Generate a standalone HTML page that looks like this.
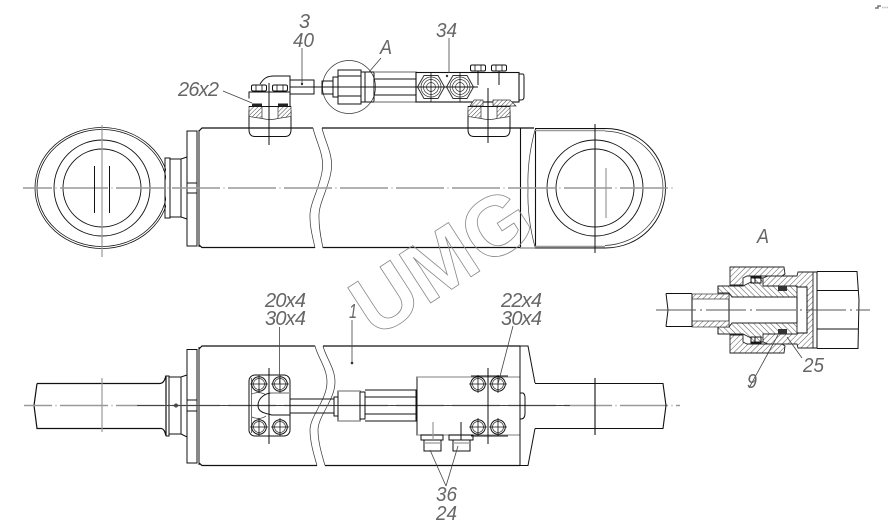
<!DOCTYPE html>
<html><head><meta charset="utf-8"><style>
html,body{margin:0;padding:0;background:#fff;width:889px;height:531px;overflow:hidden}
svg{display:block}
text{font-family:"Liberation Sans",sans-serif;font-style:italic;font-size:20px;fill:#666;font-weight:normal}
.k{fill:none;stroke:#111;stroke-width:1}
.t{fill:none;stroke:#333;stroke-width:.7}
.g{fill:none;stroke:#999;stroke-width:1.2}
.c{fill:none;stroke:#999;stroke-width:1.4;stroke-dasharray:48 3.5 1 3.5}
.l{fill:none;stroke:#444;stroke-width:.8}
</style></head><body>
<svg width="889" height="531" viewBox="0 0 889 531" xmlns="http://www.w3.org/2000/svg">
<defs>
<pattern id="h" width="4" height="4" patternUnits="userSpaceOnUse" patternTransform="rotate(45)"><rect width="4" height="4" fill="#fff"/><line x1="0" y1="0" x2="0" y2="4" stroke="#555" stroke-width="1"/></pattern>
<pattern id="h2" width="4" height="4" patternUnits="userSpaceOnUse" patternTransform="rotate(-45)"><rect width="4" height="4" fill="#fff"/><line x1="0" y1="0" x2="0" y2="4" stroke="#555" stroke-width="1"/></pattern>
<pattern id="h3" width="3" height="3" patternUnits="userSpaceOnUse" patternTransform="rotate(45)"><rect width="3" height="3" fill="#fff"/><line x1="0" y1="0" x2="0" y2="3" stroke="#444" stroke-width="1"/></pattern>
<g id="hex">
<path class="t" style="stroke-width:1" d="M-13.500 0L-7 -11.500H7L13.500 0L7 11.500H-7Z"/>
<circle class="t" r="10"/><circle class="t" r="7.500"/><circle class="t" r="4.500"/>
<path class="k" style="stroke-width:.8" d="M-17 0H17M0 -15V15"/>
</g>
<g id="bolt"><circle class="k" r="7.300"/><circle class="t" r="5.500"/><path class="k" style="stroke-width:.8" d="M-9 0H9M0 -9V9"/></g>
<g id="tb"><rect class="k" x="-7.500" y="0" width="15" height="6" rx="1.500"/><path class="k" style="stroke-width:.8" d="M-3 0V6M3 0V6"/></g>
<g id="clamp">
<path class="k" d="M0 12V31Q0 38 6 38H36Q42 38 42 31V12"/>
<path d="M0 8H13V20L0 18Z M42 8H29V20L42 18Z" fill="url(#h3)" stroke="#333" stroke-width=".7"/>
<path d="M0 8H42" class="k"/>
<path d="M13 20Q21 22 29 20" class="t"/>
<rect x="3" y="5" width="10" height="3" fill="#222"/><rect x="29" y="5" width="10" height="3" fill="#222"/>
</g>
</defs>

<!-- TOP VIEW -->
<ellipse class="k" cx="102" cy="188" rx="67" ry="60.500" style="stroke-width:.8"/>
<ellipse class="k" cx="102" cy="188" rx="65" ry="58.500" style="stroke-width:.8"/>
<rect x="166" y="150" width="10" height="76" fill="#fff"/>
<circle class="k" cx="102" cy="188" r="48" style="stroke-width:.9"/>
<circle class="k" cx="102" cy="188" r="39" style="stroke-width:.9"/>
<path class="k" d="M165 158H170V218H165ZM170 159H181V217H170M181 159L187 157V219L181 217M187 131H197V246H187ZM197 131V246M199 130V247"/>
<path class="k" d="M187 183H197M187 193H197"/>
<path class="k" style="stroke-width:1.200" d="M199 131L202 128H313M199 245L202 247.500H315M322 128H534M323 247.500H520"/>
<path class="t" d="M313 128C316 142 325 155 322 172C319 190 309 204 310 218C310 229 313 238 315 248"/>
<path class="t" d="M322 128C325 142 334 155 331 172C328 190 318 204 319 218C319 229 321 238 323 248"/>
<path class="k" style="stroke-width:1.100" d="M520.500 128V248M535.500 129V247"/>
<path class="t" d="M535 130Q527 160 528 188Q527 218 535 247"/>
<path class="g" style="stroke-width:1.500" d="M520 248H535M535 130.500H605M535 246.500H605"/>
<path class="k" style="stroke-width:.9" d="M535 128.500H605C640 128.500 665.500 155 665.500 188C665.500 221 640 248 605 248H535"/>
<path class="t" d="M605 131C638 132 663 157 663 188C663 219 638 244 605 245.500"/>
<circle class="k" cx="595" cy="188" r="48" style="stroke-width:.9"/>
<circle class="k" cx="595" cy="188" r="39" style="stroke-width:.9"/>
<path class="k" d="M595 124V253"/>
<path class="g" d="M606 168V218"/>
<line class="c" x1="23" y1="188" x2="674" y2="188" stroke-dashoffset="19"/>
<path class="g" d="M102 125V257"/>
<path class="k" d="M94.500 166V213M109.500 166V213"/>

<!-- top clamps -->
<use href="#clamp" x="249" y="98.500"/>
<use href="#clamp" x="468" y="98.500"/>
<path class="k" d="M249 98.500V92H290V106M260 84C264 78 267 76 274 76H290V94M290 80H314V94H290"/>
<use href="#tb" x="259" y="85"/><use href="#tb" x="280" y="85"/>
<path class="k" d="M269 83V145M290 87H322"/>
<!-- middle fitting -->
<circle class="t" cx="349" cy="87" r="26.500"/>
<path class="k" d="M322 81H333V94H322ZM333 77H338V97H333ZM338 70H361V104H338ZM338 76H361M338 96H361M361 72H365V102H361ZM365 72H374V102H365M374 72H416V102H374M374 79H416M374 95H416"/>
<path class="g" style="stroke-width:1.500" d="M374 72H416M374 102H416"/>
<path class="k" d="M314 87H478"/>
<!-- valve block -->
<rect class="k" x="416" y="72.500" width="103" height="29.500" style="stroke-width:1.100"/>
<path class="k" d="M519 74H523Q524 74 524 77V97Q524 100 521 100H519"/>
<use href="#hex" x="431" y="87"/><use href="#hex" x="460" y="87"/>
<use href="#tb" x="478" y="65"/><use href="#tb" x="499" y="65"/>
<path class="k" d="M478 71V85M499 71V85M488 88V143"/>
<path d="M470 106L474 100H483V106ZM493 106V100H510L516 106Z" fill="url(#h3)" stroke="#333" stroke-width=".7"/>

<!-- BOTTOM VIEW -->
<path class="k" style="stroke-width:1.200" d="M37 383.500L34 405.500L37 428.500H160C164 428 165 432 166 436V375.500C165 379 164 383 160 383.500H37"/>
<path class="k" d="M166 376H169V436H166M169 377H181V434H169M181 377L187 375V437L181 434M187 349.500H197V463H187ZM187 400H197M187 411H197M199 347V465"/>
<path class="k" style="stroke-width:1.200" d="M199 349L202 346H315M199 463L202 465.500H317M323 346H520M325 465.500H520"/>
<path class="t" d="M315 346C318 358 327 368 327 382C327 400 310 416 310 430C310 442 314 455 317 465.500"/>
<path class="t" d="M323 346C326 358 335 368 335 382C335 400 318 416 318 430C318 442 322 455 325 465.500"/>
<path class="g" d="M102 378V432"/>
<circle cx="176" cy="405.500" r="2" fill="#333"/>
<line class="c" x1="24" y1="405.500" x2="680" y2="405.500" stroke-dashoffset="20"/>
<path stroke="#444" stroke-width="1" fill="none" d="M137 405.500H570"/>
<!-- plate -->
<rect class="k" x="249" y="375" width="41" height="61" rx="6"/>
<path class="t" d="M251.500 378V433"/>
<path class="k" d="M290 393H272C264 393 258 399 258 405.500C258 412 264 413 272 415H290"/>
<path class="g" style="stroke-width:1.400" d="M270 393H290"/>
<path class="t" d="M252 394C256 392 262 392 266 395M252 417C256 419 262 419 266 416"/>
<use href="#bolt" x="259" y="384"/><use href="#bolt" x="280" y="384"/>
<use href="#bolt" x="259" y="427"/><use href="#bolt" x="280" y="427"/>
<path class="k" d="M269 368V444"/>
<path class="k" d="M290 399H334M290 413H334M334 397H338V416H334ZM338 391H360V421H338ZM360 392H365V419H360ZM365 390H416V421H365M365 397H416M365 414H416"/>
<path class="g" style="stroke-width:1.500" d="M338 391H360M338 421H360"/>
<rect class="k" x="417" y="377" width="103" height="58"/>
<path class="g" style="stroke-width:1.300" d="M417 377H520M417 435H520"/>
<path class="k" d="M520 346V465.500M520 346H528L535 383M520 465.500H528L535 428.500"/>
<path class="k" d="M520 393H523Q525 394 525 398V413Q525 419 521 419H520"/>
<path class="k" d="M471 376H508M471 436H508"/>
<use href="#bolt" x="478" y="384"/><use href="#bolt" x="498" y="384"/>
<use href="#bolt" x="478" y="427"/><use href="#bolt" x="498" y="427"/>
<path class="k" d="M488 368V444"/>
<path class="k" d="M421 435H443V440H421ZM424 440H441V451H424ZM449 435H473V440H449ZM453 440H470V451H453Z"/>
<path class="g" d="M433 422V440M424 443H441M453 443H470"/>
<path class="k" d="M461 422V440"/>
<path class="k" style="stroke-width:1.100" d="M535 383.500H663L666 405.500L663 428.500H535M595 378V435"/>

<!-- DETAIL A -->
<path d="M730 267H784L785 274L782 276H747L743 278V285H730Z" fill="url(#h)" stroke="#222" stroke-width=".9"/>
<path d="M730 353H784L785 346L782 344H747L743 342V335H730Z" fill="url(#h)" stroke="#222" stroke-width=".9"/>
<path d="M761 279L768 276H797L798 272H813V348H798L797 344H768L761 341L763 330H786V327H797V293H786V290H763Z" fill="url(#h)" stroke="#222" stroke-width=".9"/>
<rect x="797" y="287" width="10" height="46" fill="#fff"/>
<path class="k" d="M797 287H807V333H797"/>
<path d="M718 286H743L751 282V278H763V286H797V297H732L729 293H718Z" fill="url(#h2)" stroke="#222" stroke-width=".9"/>
<path d="M718 334H743L751 338V342H763V334H797V323H732L729 327H718Z" fill="url(#h2)" stroke="#222" stroke-width=".9"/>
<path class="k" d="M751 277H761V283H751ZM751 337H761V343H751ZM755 277V283M755 337V343"/>
<rect x="778" y="286" width="9" height="5" fill="#333"/><rect x="778" y="329" width="9" height="5" fill="#333"/>
<path class="k" d="M729 293V327M797 297V323"/>
<path class="k" d="M666 293.500H692M666 326.500H692M666 293.500L668 310L666 326.500"/>
<rect x="692" y="294" width="37" height="5" fill="url(#h)" stroke="#333" stroke-width=".7"/>
<rect x="692" y="321" width="37" height="6" fill="url(#h)" stroke="#333" stroke-width=".7"/>
<path class="k" d="M692 294V327M718 286V293M718 327V334"/>
<path class="k" d="M817 271.500V348.500M817 271.500H857L859 300L858 348.500H817M817 290.500H858M817 329H858M813 272H817M813 348H817"/>
<path class="g" d="M656 310H870" style="stroke:#555;stroke-width:1;stroke-dasharray:40 4 2 4"/>
<path class="l" d="M787 337L802 358M778 335L749 388"/>

<!-- WATERMARK -->
<text transform="translate(375 339) rotate(-33)" style="font-family:'Liberation Sans',sans-serif;font-style:normal;font-weight:bold;font-size:84px;fill:none;stroke:#888;stroke-width:.8">UMG</text>

<!-- LEADERS -->
<path class="l" d="M223 91L252 103M302 48V84M449 38V73M381 58L369 72M279.500 327V384M513 326L498 384M352 320V363M430 450L446 486M458 446L446 486"/>
<circle cx="302" cy="84" r="1.200" fill="#333"/><circle cx="447" cy="76" r="1.200" fill="#333"/>
<circle cx="352" cy="363" r="1.300" fill="#333"/>

<!-- LABELS -->
<text x="299" y="28" textLength="11" lengthAdjust="spacingAndGlyphs">3</text>
<text x="293" y="47" textLength="21" lengthAdjust="spacingAndGlyphs">40</text>
<text x="380" y="54" textLength="12" lengthAdjust="spacingAndGlyphs">A</text>
<text x="436" y="37" textLength="21" lengthAdjust="spacingAndGlyphs">34</text>
<text x="178" y="96" textLength="41" lengthAdjust="spacing">26x2</text>
<text x="757" y="243" textLength="12" lengthAdjust="spacingAndGlyphs">A</text>
<text x="803" y="372" textLength="21" lengthAdjust="spacingAndGlyphs">25</text>
<text x="747" y="388" textLength="10" lengthAdjust="spacingAndGlyphs">9</text>
<text x="265" y="307" textLength="41" lengthAdjust="spacing">20x4</text>
<text x="265" y="325" textLength="41" lengthAdjust="spacing">30x4</text>
<text x="501" y="307" textLength="41" lengthAdjust="spacing">22x4</text>
<text x="501" y="325" textLength="41" lengthAdjust="spacing">30x4</text>
<text x="349" y="318" textLength="8" lengthAdjust="spacingAndGlyphs">1</text>
<text x="436" y="501" textLength="21" lengthAdjust="spacingAndGlyphs">36</text>
<text x="436" y="520" textLength="21" lengthAdjust="spacingAndGlyphs">24</text>

<!-- corner mark -->
<path d="M875 8H878V6H881" stroke="#777" stroke-width="1.500" fill="none"/>
<path d="M882 7.500H888" stroke="#bbb" stroke-width="1.500" stroke-dasharray="1.500 .8" fill="none"/>
</svg>
</body></html>
